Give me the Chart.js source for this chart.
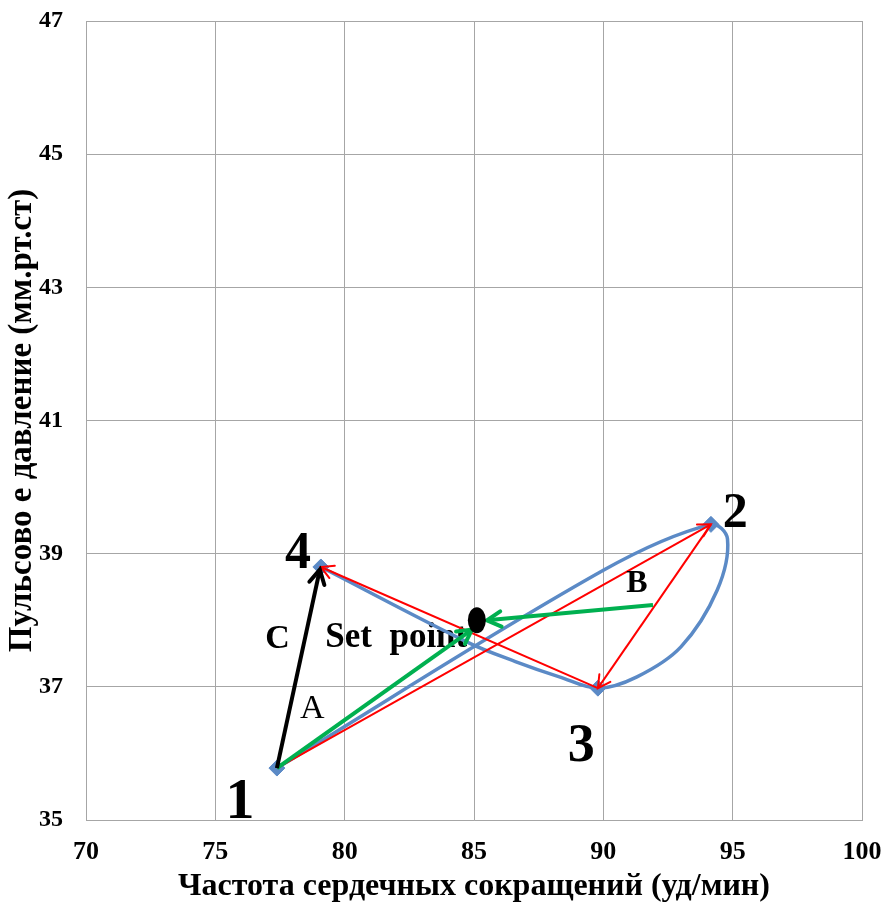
<!DOCTYPE html>
<html>
<head>
<meta charset="utf-8">
<script src="https://cdn.jsdelivr.net/npm/chart.js@4/dist/chart.umd.min.js"></script>
<style>
body{margin:0;background:#fff}
canvas{display:block}
</style>
</head>
<body>
<canvas id="grafico" width="883" height="906"></canvas>
<script>
// ejes
const xTicks=[70,75,80,85,90,95,100]
const yTicks=[35,37,39,41,43,45,47]

// puntos 1..4
const puntosX=[77.38,94.16,89.79,79.08]
const puntosY=[35.78,39.44,36.98,38.80]

// curva azul
const curvaX=[77.38,90.0,94.16,94.8,94.4,93.0,91.3,89.79,88.3,86.6,84.8,79.08]
const curvaY=[35.78,38.75,39.44,39.22,38.45,37.6,37.15,36.98,37.15,37.38,37.66,38.80]

// set point
const setPointX=[85.11]
const setPointY=[38.0]

// flechas rojas: 1->2, 2->3, 3->4
const rojaDesde=[0,1,2]
const rojaHasta=[1,2,3]

// flechas verdes
const verdeX1=[77.38,91.92]
const verdeY1=[35.78,38.23]
const verdeX2=[84.92,85.5]
const verdeY2=[37.86,38.0]

// flecha negra C
const negraX=[77.38,79.04]
const negraY=[35.78,38.76]

// etiquetas
const etiquetas=["1","2","3","4","A","B","C"]
const etiquetaX=[75.95,95.1,89.15,78.2,78.75,91.3,77.4]
const etiquetaY=[35.26,39.6,36.1,38.98,36.66,38.55,37.72]

const serif="'Liberation Serif','Times New Roman',serif"
const azul="#5B8AC6"
const rojo="#FF0000"
const verde="#00B050"

const estiloEtiqueta={
"1":"bold 58px "+serif,
"2":"bold 50px "+serif,
"3":"bold 54px "+serif,
"4":"bold 52px "+serif,
"A":"34px "+serif,
"B":"bold 32px "+serif,
"C":"bold 34px "+serif
}

function par(xs,ys){
return xs.map((x,i)=>({x:x,y:ys[i]}))
}

const datasets=[]

datasets.push({
label:"curva",
data:par(curvaX,curvaY),
showLine:true,
borderColor:azul,
borderWidth:3.5,
pointRadius:0,
tension:0.35,
order:10
})

datasets.push({
label:"puntos",
data:par(puntosX,puntosY),
showLine:false,
pointStyle:"rectRot",
pointRadius:8,
backgroundColor:azul,
borderColor:azul,
order:9
})

rojaDesde.forEach((d,i)=>{
let h=rojaHasta[i]
datasets.push({
label:"roja"+i,
tipo:"flecha",
cabeza:14,
data:[{x:puntosX[d],y:puntosY[d]},{x:puntosX[h],y:puntosY[h]}],
showLine:true,
borderColor:rojo,
borderWidth:2,
pointRadius:0,
order:5
})
})

verdeX1.forEach((x,i)=>{
datasets.push({
label:"verde"+i,
tipo:"flecha",
cabeza:16,
data:[{x:x,y:verdeY1[i]},{x:verdeX2[i],y:verdeY2[i]}],
showLine:true,
borderColor:verde,
borderWidth:4,
pointRadius:0,
order:4
})
})

datasets.push({
label:"negra",
tipo:"flecha",
cabeza:16,
data:par(negraX,negraY),
showLine:true,
borderColor:"#000",
borderWidth:4,
pointRadius:0,
order:3
})

const dibujos={
id:"dibujos",
beforeDatasetsDraw(chart){
const c=chart.ctx
const sx=chart.scales.x, sy=chart.scales.y
c.save()
c.fillStyle="#000"
c.font="bold 35px "+serif
c.textBaseline="middle"
c.fillText("Set  point",sx.getPixelForValue(79.25),sy.getPixelForValue(37.74))
c.restore()
},
afterDatasetsDraw(chart){
const c=chart.ctx
const sx=chart.scales.x, sy=chart.scales.y

// cabezas de flecha
chart.data.datasets.forEach(ds=>{
if(ds.tipo!=="flecha") return
let a=ds.data[0], b=ds.data[1]
let x1=sx.getPixelForValue(a.x), y1=sy.getPixelForValue(a.y)
let x2=sx.getPixelForValue(b.x), y2=sy.getPixelForValue(b.y)
let ang=Math.atan2(y2-y1,x2-x1)
let L=ds.cabeza, ab=0.5
c.save()
c.strokeStyle=ds.borderColor
c.lineWidth=ds.borderWidth
c.lineCap="round"
c.beginPath()
c.moveTo(x2-L*Math.cos(ang-ab),y2-L*Math.sin(ang-ab))
c.lineTo(x2,y2)
c.lineTo(x2-L*Math.cos(ang+ab),y2-L*Math.sin(ang+ab))
c.stroke()
c.restore()
})

// set point
c.save()
c.fillStyle="#000"
c.beginPath()
c.ellipse(sx.getPixelForValue(setPointX[0]),sy.getPixelForValue(setPointY[0]),9,13,0,0,Math.PI*2)
c.fill()
c.restore()

// etiquetas
c.save()
c.fillStyle="#000"
c.textAlign="center"
c.textBaseline="middle"
etiquetas.forEach((t,i)=>{
c.font=estiloEtiqueta[t]
c.fillText(t,sx.getPixelForValue(etiquetaX[i]),sy.getPixelForValue(etiquetaY[i]))
})
c.restore()
}
}

const gris="#A6A6A6"

new Chart(document.getElementById("grafico"),{
type:"scatter",
data:{datasets:datasets},
plugins:[dibujos],
options:{
responsive:false,
animation:false,
layout:{padding:{left:0,top:21,right:21,bottom:0}},
plugins:{legend:{display:false},tooltip:{enabled:false}},
scales:{
x:{
type:"linear",
min:70,max:100,
afterBuildTicks:s=>{s.ticks=xTicks.map(v=>({value:v}))},
afterFit:s=>{s.height=86;s.paddingLeft=0;s.paddingRight=0},
grid:{color:gris,lineWidth:1,drawTicks:false},
border:{color:gris},
ticks:{color:"#000",font:{family:serif,size:26,weight:"bold"},padding:17,maxRotation:0},
title:{display:true,text:"Частота сердечных сокращений (уд/мин)",color:"#000",
font:{family:serif,size:32,weight:"bold"},padding:{top:0,bottom:0}}
},
y:{
type:"linear",
min:35,max:47,
afterBuildTicks:s=>{s.ticks=yTicks.map(v=>({value:v}))},
afterFit:s=>{s.width=86;s.paddingTop=0;s.paddingBottom=0},
grid:{color:gris,lineWidth:1,drawTicks:false},
border:{color:gris},
ticks:{color:"#000",font:{family:serif,size:24,weight:"bold"},padding:23},
title:{display:true,text:"Пульсово е давление (мм.рт.ст)",color:"#000",
font:{family:serif,size:33,weight:"bold"},padding:{top:3,bottom:0}}
}
}
}
})
</script>
</body>
</html>
